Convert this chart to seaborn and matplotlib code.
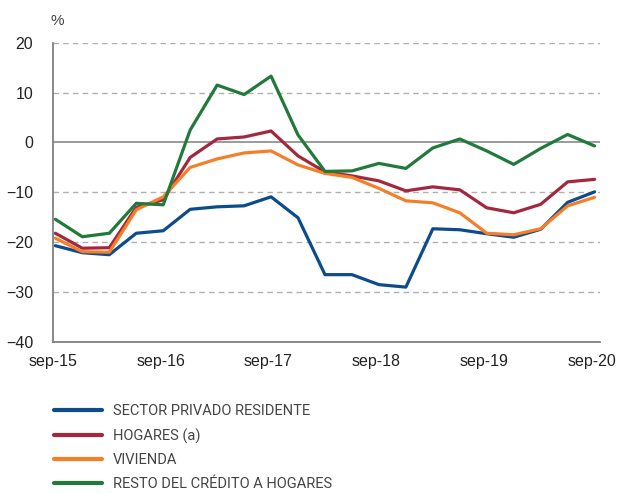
import numpy as np
import pandas as pd
import seaborn as sns
from matplotlib import pyplot as plt

# quarterly year-on-year rates, sep-15 .. sep-20
quarters = np.arange(21)
tick_labels = ["sep-15", "sep-16", "sep-17", "sep-18", "sep-19", "sep-20"]

sector_privado = [-20.7, -22.1, -22.5, -18.2, -17.7, -13.4, -12.9, -12.7, -10.9, -15.1,
                  -26.5, -26.5, -28.5, -29.0, -17.3, -17.5, -18.3, -19.0, -17.4, -12.0, -9.9]
hogares = [-18.2, -21.2, -21.1, -13.0, -11.5, -3.0, 0.7, 1.1, 2.3, -2.7,
           -5.9, -6.7, -7.7, -9.7, -8.9, -9.5, -13.1, -14.1, -12.4, -7.9, -7.4]
vivienda = [-19.2, -21.9, -22.0, -13.5, -10.9, -5.0, -3.3, -2.1, -1.7, -4.5,
            -6.2, -7.0, -9.2, -11.7, -12.1, -14.1, -18.2, -18.5, -17.3, -12.7, -11.0]
resto = [-15.4, -18.9, -18.2, -12.2, -12.5, 2.5, 11.5, 9.6, 13.3, 1.5,
         -5.8, -5.7, -4.2, -5.2, -1.1, 0.7, -1.7, -4.4, -1.2, 1.6, -0.7]

series_names = ["SECTOR PRIVADO RESIDENTE", "HOGARES (a)", "VIVIENDA",
                "RESTO DEL CRÉDITO A HOGARES"]
colors = ["#0d4c8c", "#a3283f", "#f57f29", "#217a3c"]

df = pd.concat([
    pd.DataFrame({"q": quarters, "valor": vals, "serie": name})
    for name, vals in zip(series_names, [sector_privado, hogares, vivienda, resto])
])

sns.set_style("white")
plt.rcParams["font.family"] = ["Liberation Sans", "DejaVu Sans"]

fig = plt.figure(figsize=(6.19, 4.93), dpi=100)
ax = fig.add_axes([0.0851, 0.3063, 0.8842, 0.6071])

for y in [20, 10, -10, -20, -30]:
    ax.axhline(y, color="#b0b0b0", lw=1, ls=(0, (4, 3)), zorder=0)
ax.axhline(0, color="#808080", lw=1.1, zorder=0)

sns.lineplot(data=df, x="q", y="valor", hue="serie", hue_order=series_names,
             palette=colors, linewidth=2.3, ax=ax, legend=False)

ax.set_ylim(-40, 20)
ax.set_xlim(-0.09, 20.2)
ax.set_yticks([20, 10, 0, -10, -20, -30, -40])
ax.set_xticks(np.arange(0, 21, 4) - 0.1)
ax.set_xticklabels(tick_labels)
ax.set_xlabel("")
ax.set_ylabel("")
ax.tick_params(axis="x", direction="in", length=5, color="#808080", pad=9,
               labelsize=11.5, labelcolor="#222222")
ax.tick_params(axis="y", length=0, pad=14, labelsize=11.5, labelcolor="#222222")

for side in ["top", "right"]:
    ax.spines[side].set_visible(False)
for side in ["left", "bottom"]:
    ax.spines[side].set_color("#808080")
    ax.spines[side].set_linewidth(1.3)

fig.text(0.082, 0.958, "%", fontsize=11, color="#444444", ha="left", va="center")

handles = [plt.Line2D([], [], color=c, lw=3) for c in colors]
fig.legend(handles, series_names, loc="upper left", bbox_to_anchor=(0.087, 0.18),
           frameon=False, handlelength=3.3, handletextpad=0.75, labelspacing=0.68,
           borderaxespad=0, borderpad=0,
           prop={"family": ["Roboto", "DejaVu Sans"], "size": 10.5},
           labelcolor="#444444")

fig.savefig("out.png", dpi=100)
